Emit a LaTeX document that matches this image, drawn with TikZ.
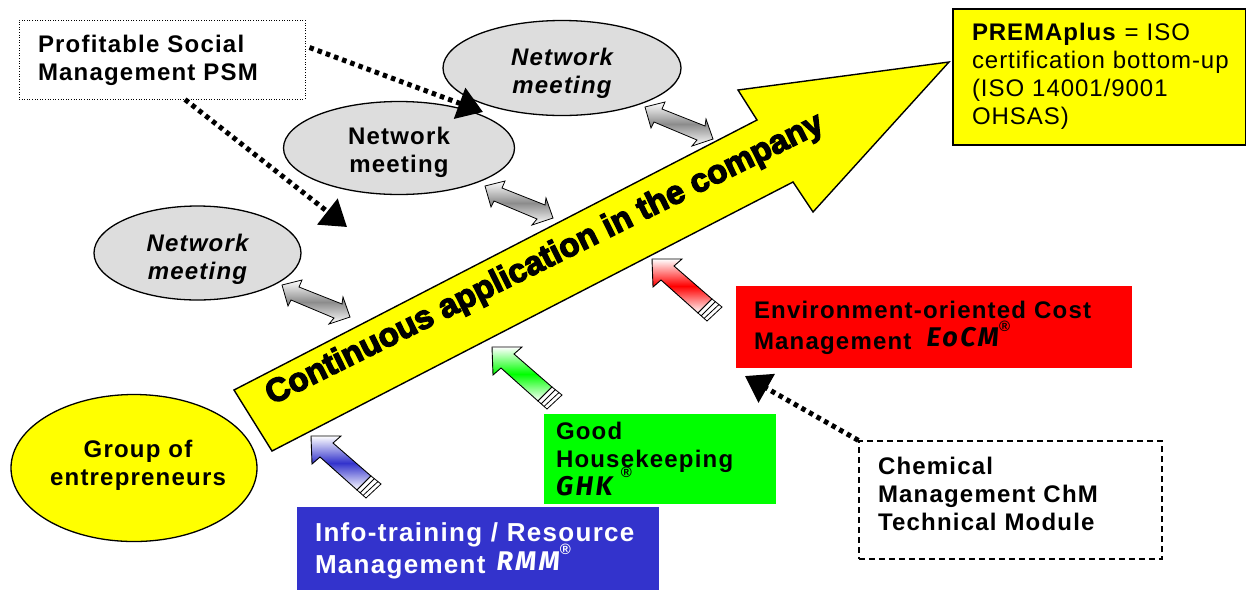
\documentclass[tikz,border=0pt]{standalone}
\usepackage{fontspec}
\usetikzlibrary{shapes.geometric,arrows.meta}
\setmainfont[LetterSpace=5]{Liberation Sans}
\newfontfamily\premafont[LetterSpace=4]{Liberation Sans}
\newfontfamily\heavyfont[FakeBold=4]{Liberation Sans Bold}
\newfontfamily\handfont[LetterSpace=9]{Fira Sans}
\definecolor{netgray}{HTML}{DDDDDD}
\definecolor{rmmblue}{HTML}{3333CC}
\definecolor{bigyellow}{RGB}{255,255,0}
\definecolor{pureg}{RGB}{0,255,0}
\definecolor{purer}{RGB}{255,0,0}
\newcommand{\lab}{\fontsize{24}{28}\selectfont\bfseries}
\newcommand{\hand}[1]{\raisebox{3pt}[0pt][0pt]{\fontsize{27}{27}\selectfont\handfont\itshape #1}}
\newcommand{\handlow}[1]{{\fontsize{27}{27}\selectfont\handfont\itshape #1}}
\newcommand{\regm}{\raisebox{.75em}[0pt][0pt]{\fontsize{15}{15}\selectfont\bfseries\itshape ®}}
\newcommand{\lowline}[2]{\raisebox{-#1pt}[0pt][0pt]{#2}}
\newcommand{\offcenter}[1]{\hspace*{8pt}\makebox[0pt][c]{#1}}
\tikzset{
  x=1pt,y=-1pt,
  netnode/.style={ellipse,draw=black,line width=1.3pt,fill=netgray,inner sep=0pt,align=center,font=\lab},
  yellownode/.style={ellipse,draw=black,line width=1.3pt,fill=bigyellow,inner sep=0pt,align=center,font=\lab},
  boxnode/.style={rectangle,inner sep=0pt,align=left,font=\lab},
  dotline/.style={line width=5pt,black,dash pattern=on 4.5pt off 4.2pt,-{Triangle[length=25pt,width=32pt]}},
  dblarrow/.style={draw=black,line width=.8pt,top color=white,bottom color=white,middle color=gray!90},
  bigarrow/.style={draw=black,line width=1.4pt,fill=bigyellow,line join=miter}
}
\newcommand{\dblarrowat}[2]{%
  \begin{scope}[shift={(#1,#2)}]
    \shade[dblarrow] (645,107) -- (665,102) -- (662,109) -- (705,126) -- (706,119) -- (713,139)
      -- (692,146) -- (697,140) -- (654,122) -- (651,128) -- cycle;
  \end{scope}}
\newcommand{\blockarrowat}[3]{%
  \begin{scope}[shift={(#1,#2)}]
    \shade[draw=black,line width=.9pt,top color=white,bottom color=white,middle color=#3]
      (311,436) -- (341,436) -- (333,443) -- (371,476) -- (357,490) -- (320,457) -- (312,464) -- cycle;
    \draw[line width=.8pt,fill=white] (371,476) -- (381,484) -- (366,498) -- (357,490) -- cycle;
    \draw[line width=.8pt] (374.5,478.5) -- (360,493) (378,481.5) -- (363,495.5);
  \end{scope}}
\begin{document}
\begin{tikzpicture}
\useasboundingbox (0,0) rectangle (1246,590);

% double arrows
\dblarrowat{0}{0}
\dblarrowat{-160}{79}
\dblarrowat{-363}{178}

% big arrow
\draw[bigarrow] (234,390) -- (757,120) -- (738,90) -- (949,62) -- (813,212) -- (793,182) -- (272,451) -- cycle;
\node[rotate=26.4,font=\heavyfont\fontsize{33}{33}\selectfont,inner sep=0pt] (flow) at (545,260) {Continuous application in the company};

% block arrows
\blockarrowat{0}{0}{rmmblue}
\blockarrowat{181}{-89}{pureg}
\blockarrowat{341}{-177}{purer}

% ellipses
\node[netnode,minimum width=238pt,minimum height=95pt] (net3) at (562,68) {\lowline{11.6}{\itshape Network}\\\lowline{11.6}{\itshape meeting}};
\node[netnode,minimum width=231pt,minimum height=93pt] (net2) at (399,148) {\lowline{10.6}{Network}\\\lowline{10.6}{meeting}};
\node[netnode,minimum width=207pt,minimum height=94pt] (net1) at (197.5,253) {\lowline{12.6}{\itshape Network}\\\lowline{12.6}{\itshape meeting}};
\node[yellownode,minimum width=246pt,minimum height=147pt] (group) at (134,468) {\lowline{3.1}{\offcenter{Group of}}\\\lowline{3.1}{\offcenter{entrepreneurs}}};

% boxes
\node[boxnode,draw=black,dash pattern=on 1pt off 1.6pt,line width=1pt,minimum width=286pt,minimum height=79pt,text width=248pt] (psm) at (162,59.5) {\lowline{7.1}{Profitable Social}\\\lowline{7.1}{Management PSM}};
\node[boxnode,draw=black,fill=bigyellow,line width=1.3pt,minimum width=293pt,minimum height=136pt,text width=255pt,font=\fontsize{24}{28}\selectfont\premafont] (prema) at (1099.5,77) {\lowline{5.6}{\textbf{PREMAplus} = ISO}\\\lowline{5.6}{certification bottom-up}\\\lowline{5.6}{(ISO 14001/9001}\\\lowline{5.6}{OHSAS)}};
\node[boxnode,fill=purer,minimum width=396pt,minimum height=82pt,text width=360pt] (eocm) at (934,327) {\lowline{7.1}{Environment-oriented Cost}\\[3pt]\lowline{7.1}{Management\hspace{15pt}\hand{EoCM}\regm}};
\node[boxnode,fill=pureg,minimum width=232pt,minimum height=90pt,text width=208pt] (ghk) at (660,459) {\lowline{8.6}{Good}\\\lowline{8.6}{Housekeeping}\\\lowline{8.6}{\handlow{GHK} \regm}};
\node[boxnode,fill=rmmblue,text=white,minimum width=362pt,minimum height=83pt,text width=326pt,font=\fontsize{26}{28}\selectfont\bfseries] (rmm) at (478,548.5) {\lowline{9.1}{Info-training / Resource}\\[4pt]\lowline{9.1}{Management\hspace{11pt}\hand{RMM}\regm}};
\node[boxnode,draw=black,dash pattern=on 6pt off 4pt,line width=1.3pt,minimum width=303pt,minimum height=118pt,text width=265pt] (chm) at (1010.5,500) {\lowline{2.6}{Chemical}\\\lowline{2.6}{Management ChM}\\\lowline{2.6}{Technical Module}};

% dotted connectors
\coordinate (t1) at (347,227);
\coordinate (t2) at (483,112);
\coordinate (t3) at (745,376);
\draw[dotline] ([xshift=23pt]psm.south) -- (t1);
\draw[dotline] ([shift={(4pt,12pt)}]psm.east) -- (t2);
\draw[dotline] (chm.north west) -- (t3);
\end{tikzpicture}
\end{document}
